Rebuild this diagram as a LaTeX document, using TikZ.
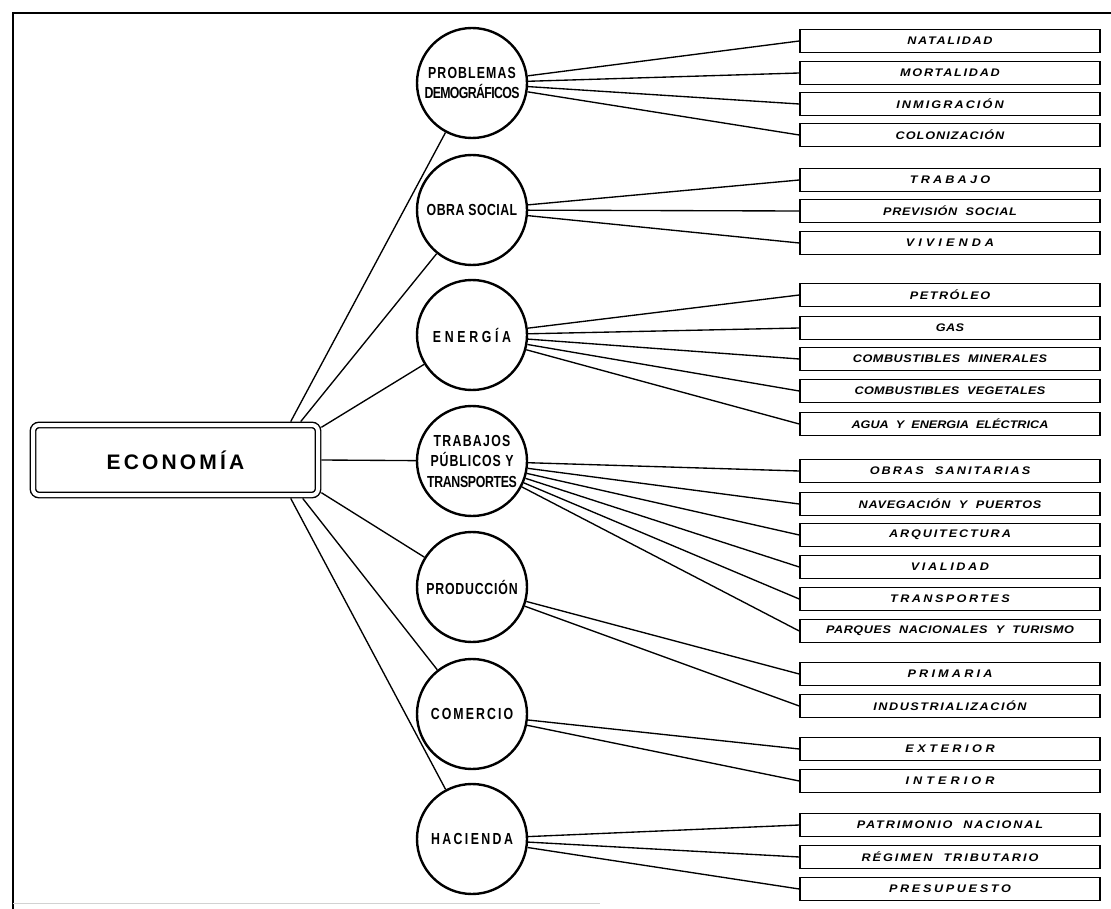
\documentclass[tikz,border=0pt]{standalone}
\usepackage{fontspec}
\setmainfont{Liberation Sans}
\newfontfamily\circfont[FakeStretch=0.77]{Liberation Sans}
\newfontfamily\boxfont[WordSpace=2,FakeStretch=1.15]{Liberation Sans}
\usetikzlibrary{shapes.geometric}
\newcommand{\ls}[2]{{\addfontfeature{LetterSpace=#1}#2}}
\tikzset{
  frameline/.style={line width=1.5pt},
  conn/.style={line width=1.35pt},
  topic/.style={circle, draw, line width=2.4pt, minimum size=110pt, inner sep=0pt},
  ttext/.style={align=center, inner sep=0pt, font=\circfont\bfseries\fontsize{16}{20.5}\selectfont},
  sbox/.style={draw, line width=1.5pt, minimum width=300pt, minimum height=23pt, inner sep=0pt,
    font=\boxfont\bfseries\itshape\fontsize{11}{13}\selectfont\addfontfeature{LetterSpace=#1}},
  sbox/.default=15,
  ecobox/.style={draw, double, double distance=4pt, line width=1.4pt, rounded corners=6pt,
    minimum width=285pt, minimum height=70pt, inner sep=0pt,
    font=\bfseries\fontsize{21}{24}\selectfont\addfontfeature{LetterSpace=15}}
}
\begin{document}
\begin{tikzpicture}[x=1pt,y=-1pt]
\useasboundingbox (0,0) rectangle (1111,909);
% frame
\coordinate (fa) at (13,909);
\coordinate (fb) at (13,13);
\coordinate (fc) at (1111,13);
\draw[frameline] (fa) -- (fb) -- (fc);
\coordinate (fd) at (13,903);
\coordinate (fe) at (600,903);
\draw[gray!35, line width=0.8pt] (fd) -- (fe);

% main box
\node[ecobox] (eco) at (175.5,460) {ECONOMÍA};

% topics
\node[topic] (p1) at (472,83) {};
\node[topic] (p2) at (472,210) {};
\node[topic] (p3) at (472,335) {};
\node[topic] (p4) at (472,461) {};
\node[topic] (p5) at (472,587) {};
\node[topic] (p6) at (472,714) {};
\node[topic] (p7) at (472,839) {};

\node[ttext] (t1) at (p1) {\ls{7}{PROBLEMAS}\\\ls{-4}{DEMOGRÁFICOS}};
\node[ttext] (t2) at (p2) {\ls{3}{OBRA SOCIAL}};
\node[ttext] (t3) at (p3) {\ls{23}{ENERGÍA}};
\node[ttext] (t4) at (p4) {\ls{8}{TRABAJOS}\\\ls{6}{PÚBLICOS Y}\\\ls{-2}{TRANSPORTES}};
\node[ttext] (t5) at (p5) {\ls{5}{PRODUCCIÓN}};
\node[ttext] (t6) at (p6) {\ls{13}{COMERCIO}};
\node[ttext] (t7) at (p7) {\ls{15}{HACIENDA}};

% connectors from main box
\coordinate (s1) at ([xshift=-28pt,yshift=2.7pt]eco.north east);
\coordinate (s2) at ([xshift=-18pt,yshift=2.7pt]eco.north east);
\coordinate (s3) at ([xshift=2.7pt,yshift=-3pt]eco.north east);
\coordinate (s4) at ([xshift=2.7pt]eco.east);
\coordinate (s5) at ([xshift=2.7pt,yshift=3pt]eco.south east);
\coordinate (s6) at ([xshift=-16pt,yshift=-2.7pt]eco.south east);
\coordinate (s7) at ([xshift=-28pt,yshift=-2.7pt]eco.south east);
\foreach \i in {1,...,7} { \draw[conn] (s\i) -- (p\i); }

% sub boxes
\node[sbox=15] (b11) at (950,41) {NATALIDAD};
\node[sbox=16] (b12) at (950,73) {MORTALIDAD};
\node[sbox=19] (b13) at (950,104) {INMIGRACIÓN};
\node[sbox=9] (b14) at (950,135) {COLONIZACIÓN};

\node[sbox=29] (b21) at (950,180) {TRABAJO};
\node[sbox=6] (b22) at (950,211) {PREVISIÓN SOCIAL};
\node[sbox=37] (b23) at (950,243) {VIVIENDA};

\node[sbox=14] (b31) at (950,295) {PETRÓLEO};
\node[sbox=3] (b32) at (950,328) {GAS};
\node[sbox=5] (b33) at (950,359) {COMBUSTIBLES MINERALES};
\node[sbox=3] (b34) at (950,391) {COMBUSTIBLES VEGETALES};
\node[sbox=0] (b35) at (950,424) {AGUA Y ENERGIA ELÉCTRICA};

\node[sbox=19] (b41) at (950,471) {OBRAS SANITARIAS};
\node[sbox=7] (b42) at (950,504) {NAVEGACIÓN Y PUERTOS};
\node[sbox=17] (b43) at (950,535) {ARQUITECTURA};
\node[sbox=24] (b44) at (950,567) {VIALIDAD};
\node[sbox=22] (b45) at (950,599) {TRANSPORTES};
\node[sbox=5] (b46) at (950,631) {PARQUES NACIONALES Y TURISMO};

\node[sbox=29] (b51) at (950,674) {PRIMARIA};
\node[sbox=14] (b52) at (950,706) {INDUSTRIALIZACIÓN};

\node[sbox=32] (b61) at (950,749) {EXTERIOR};
\node[sbox=37] (b62) at (950,781) {INTERIOR};

\node[sbox=17] (b71) at (950,825) {PATRIMONIO NACIONAL};
\node[sbox=18] (b72) at (950,857) {RÉGIMEN TRIBUTARIO};
\node[sbox=24] (b73) at (950,889) {PRESUPUESTO};

% connectors to sub boxes
\foreach \j in {1,...,4} { \draw[conn] (p1) -- (b1\j.west); }
\foreach \j in {1,...,3} { \draw[conn] (p2) -- (b2\j.west); }
\foreach \j in {1,...,5} { \draw[conn] (p3) -- (b3\j.west); }
\foreach \j in {1,...,6} { \draw[conn] (p4) -- (b4\j.west); }
\foreach \j in {1,...,2} { \draw[conn] (p5) -- (b5\j.west); }
\foreach \j in {1,...,2} { \draw[conn] (p6) -- (b6\j.west); }
\foreach \j in {1,...,3} { \draw[conn] (p7) -- (b7\j.west); }
\end{tikzpicture}
\end{document}
